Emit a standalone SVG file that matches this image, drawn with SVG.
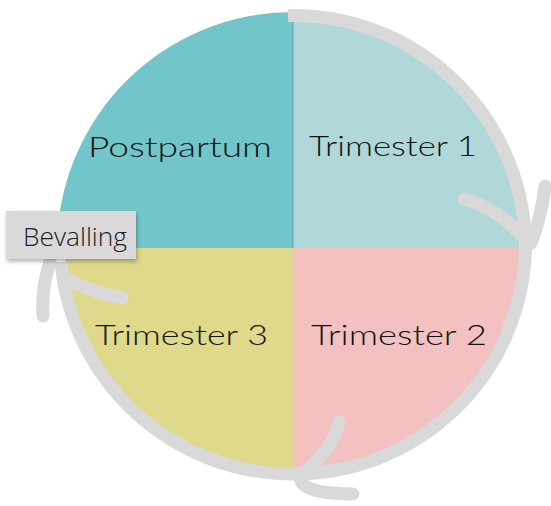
<svg xmlns="http://www.w3.org/2000/svg" width="551" height="506" viewBox="0 0 551 506">
  <defs>
    <filter id="shadow" x="-20%" y="-30%" width="140%" height="170%">
      <feDropShadow dx="1" dy="2.5" stdDeviation="2.2" flood-color="#000" flood-opacity="0.3"/>
    </filter>
  </defs>
  <style>
    .label { font-family: "Lato", "Inter", "Liberation Sans", sans-serif; font-weight: 300; font-size: 28px; fill: #111; }
    .ring { fill: none; stroke: #d9d9d9; stroke-width: 13; }
    .barb { fill: none; stroke: #d9d9d9; stroke-width: 13; stroke-linecap: round; stroke-linejoin: round; }
    .tag-text { font-family: "Open Sans", "Liberation Sans", sans-serif; font-weight: 300; font-size: 25px; fill: #222; }
  </style>
  <rect width="551" height="506" fill="#ffffff"/>

  <!-- Quadrants -->
  <g id="trimester1">
    <path d="M293,248 V20 A228,228 0 0 1 521,248 Z" fill="#b0d8d8"/>
    <text class="label" x="309" y="156" textLength="168" lengthAdjust="spacingAndGlyphs">Trimester 1</text>
  </g>
  <g id="trimester2">
    <path d="M293,248 H521 A228,228 0 0 1 293,476 Z" fill="#f2c1c0"/>
    <text class="label" x="311" y="345" textLength="176" lengthAdjust="spacingAndGlyphs">Trimester 2</text>
  </g>
  <g id="trimester3">
    <path d="M293,248 V476 A228,228 0 0 1 65,248 Z" fill="#dfd98b"/>
    <text class="label" x="95" y="345" textLength="173" lengthAdjust="spacingAndGlyphs">Trimester 3</text>
  </g>
  <g id="postpartum">
    <path d="M293,248 V12 A236,236 0 0 0 57,248 Z" fill="#72c5c8"/>
    <line x1="293" y1="12" x2="293" y2="248" stroke="#5db3b6" stroke-width="1.3"/>
    <text class="label" x="88" y="157" textLength="184" lengthAdjust="spacingAndGlyphs">Postpartum</text>
  </g>

  <!-- Cycle arrow around the circle -->
  <g id="connectors">
    <path class="ring" d="M288,15.5 A232.5,232.5 0 0 1 525.5,248 A231,231 0 0 1 293,474 A233,233 0 0 1 61,262"/>
    <!-- head on the right, pointing down -->
    <path class="barb" d="M464,199 Q496,208 520,234"/>
    <path class="barb" d="M545,186 Q542,215 531,243"/>
    <!-- head at the bottom, pointing left -->
    <path class="barb" d="M339,422 Q333,450 302,474"/>
    <path class="barb" d="M300,478 Q302,494 353,494"/>
    <!-- head on the left, pointing up -->
    <path class="barb" d="M43,316 Q41,290 50,262"/>
    <path class="barb" d="M122,298 Q92,292 68,280"/>
  </g>

  <g id="bevalling">
    <rect x="6" y="211" width="130" height="48" fill="#d9d9d9" filter="url(#shadow)"/>
    <text class="tag-text" x="23" y="246" textLength="104" lengthAdjust="spacingAndGlyphs">Bevalling</text>
  </g>
</svg>
